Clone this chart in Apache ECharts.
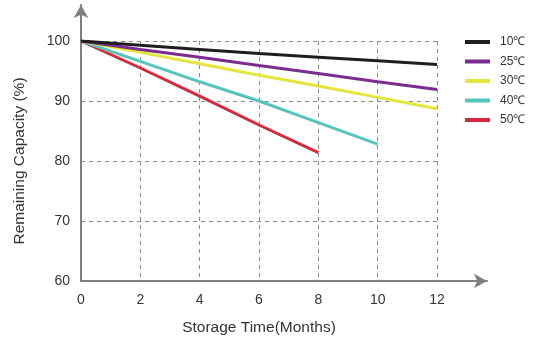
<!DOCTYPE html>
<html><head><meta charset="utf-8">
<script src="https://cdn.jsdelivr.net/npm/echarts@6/dist/echarts.min.js"></script>
<style>html,body{margin:0;padding:0;background:#fff}#c{width:541px;height:347px}</style>
</head><body><div id="c"></div>
<script>
var months = [0, 2, 4, 6, 8, 10, 12];
var xTicks = [0, 2, 4, 6, 8, 10, 12];
var yTicks = [60, 70, 80, 90, 100];
var seriesNames = ['10\u2103', '25\u2103', '30\u2103', '40\u2103', '50\u2103'];
var cap10 = [100, 99.3, 98.6, 97.9, 97.3, 96.7, 96.1];
var cap25 = [100, 98.6, 97.3, 95.9, 94.6, 93.2, 91.9];
var cap30 = [100, 98.1, 96.2, 94.3, 92.5, 90.6, 88.7];
var cap40 = [100, 96.6, 93.2, 90.0, 86.4, 82.8];
var cap50 = [100, 95.5, 90.8, 86.0, 81.4];
var colors = ['#1e1e1e', '#7b2d8f', '#e4e63c', '#57c5bd', '#d8283c'];
var allCaps = [cap10, cap25, cap30, cap40, cap50];

var font = 'Liberation Sans, Arial, sans-serif';
var chart = echarts.init(document.getElementById('c'), null, {renderer: 'canvas'});
var series = allCaps.map(function (arr, i) {
  return {
    name: seriesNames[i], type: 'line', xAxisIndex: 0, yAxisIndex: 0,
    data: arr.map(function (v, j) { return [months[j], v]; }),
    symbol: 'none', lineStyle: {width: 3, color: colors[i]}, itemStyle: {color: colors[i]},
    z: 3 + (4 - i)
  };
});
var dash = {show: true, lineStyle: {color: '#8a8a8a', width: 1, type: [4, 4]}};
chart.setOption({
  animation: false,
  color: colors,
  grid: [
    {left: 81, right: 104, top: 41, bottom: 66},
    {left: 81, right: 54, top: 5, bottom: 66}
  ],
  legend: {
    orient: 'vertical', left: 460, top: 31, itemWidth: 25, itemHeight: 4, itemGap: 7.5,
    icon: 'rect', data: seriesNames,
    textStyle: {fontFamily: font, fontSize: 12, color: '#333', padding: [0, 0, 0, 5]}
  },
  xAxis: [
    {type: 'value', gridIndex: 0, min: 0, max: 12, interval: 2,
     axisLine: {show: false}, axisTick: {show: false},
     axisLabel: {fontFamily: font, fontSize: 14, color: '#333', margin: 12},
     splitLine: dash,
     name: 'Storage Time(Months)', nameLocation: 'middle', nameGap: 39,
     nameTextStyle: {fontFamily: font, fontSize: 15.5, color: '#333'}},
    {type: 'value', gridIndex: 1, min: 0, max: 1,
     axisLine: {show: true, symbol: ['none', 'arrow'], symbolSize: [11, 13], lineStyle: {color: '#7f7f7f', width: 2}},
     axisTick: {show: false}, axisLabel: {show: false}, splitLine: {show: false}}
  ],
  yAxis: [
    {type: 'value', gridIndex: 0, min: 60, max: 100, interval: 10,
     axisLine: {show: false}, axisTick: {show: false},
     axisLabel: {fontFamily: font, fontSize: 14, color: '#333', margin: 11},
     splitLine: dash,
     name: 'Remaining Capacity (%)', nameLocation: 'middle', nameGap: 53,
     nameTextStyle: {fontFamily: font, fontSize: 15.5, color: '#333'}},
    {type: 'value', gridIndex: 1, min: 0, max: 1,
     axisLine: {show: true, symbol: ['none', 'arrow'], symbolSize: [11, 13], lineStyle: {color: '#7f7f7f', width: 2}},
     axisTick: {show: false}, axisLabel: {show: false}, splitLine: {show: false}}
  ],
  series: series
});
</script></body></html>
